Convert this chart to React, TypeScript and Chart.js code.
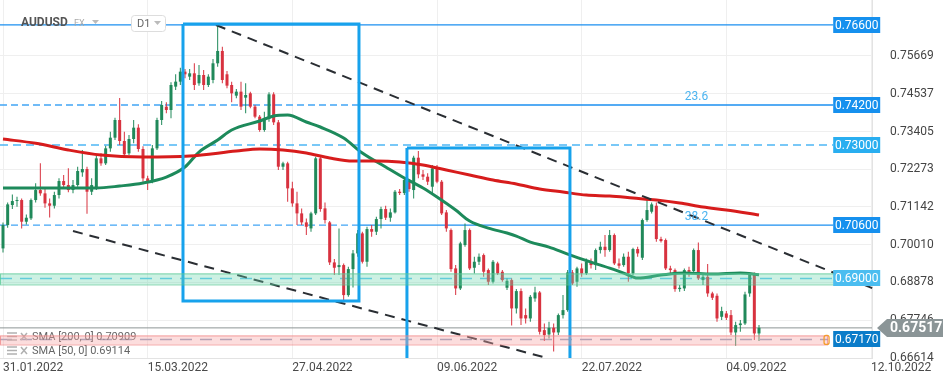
import React, { useEffect, useRef } from "react";
import { Chart, registerables } from "chart.js";
Chart.register(...registerables);

// ---------- DATA ----------
const candleOpen = [0.6990,0.7060,0.7120,0.7132,0.7135,0.7070,0.7080,0.7135,0.7165,0.7155,
 0.7125,0.7118,0.7150,0.7192,0.7180,0.7165,0.7180,0.7218,0.7228,0.7160,
 0.7172,0.7260,0.7245,0.7290,0.7322,0.7375,0.7312,0.7275,0.7318,0.7352,
 0.7288,0.7200,0.7192,0.7290,0.7375,0.7415,0.7405,0.7475,0.7490,0.7520,
 0.7505,0.7515,0.7485,0.7510,0.7480,0.7495,0.7545,0.7582,0.7512,0.7480,
 0.7448,0.7460,0.7442,0.7455,0.7415,0.7385,0.7345,0.7378,0.7452,0.7368,
 0.7235,0.7245,0.7170,0.7125,0.7095,0.7068,0.7050,0.7095,0.7260,0.7110,
 0.7068,0.6948,0.6934,0.6940,0.6850,0.6928,0.6975,0.7035,0.6950,0.7048,
 0.7040,0.7078,0.7108,0.7082,0.7098,0.7160,0.7156,0.7195,0.7165,0.7262,
 0.7212,0.7205,0.7175,0.7230,0.7190,0.7098,0.7045,0.6930,0.6870,0.7000,
 0.7045,0.6932,0.6950,0.6970,0.6925,0.6890,0.6945,0.6920,0.6872,0.6895,
 0.6810,0.6862,0.6790,0.6780,0.6840,0.6858,0.6745,0.6732,0.6752,0.6738,
 0.6790,0.6805,0.6918,0.6890,0.6930,0.6915,0.6950,0.6940,0.6985,0.6995,
 0.6985,0.7030,0.6945,0.6940,0.6965,0.6915,0.6988,0.6962,0.7075,0.7100,
 0.7118,0.7018,0.7015,0.6930,0.6925,0.6868,0.6870,0.6925,0.6922,0.6985,
 0.6895,0.6905,0.6855,0.6848,0.6785,0.6795,0.6790,0.6738,0.6760,0.6765,
 0.6855,0.6912,0.6735];
const candleHigh = [0.7068,0.7128,0.7152,0.7145,0.7140,0.7092,0.7140,0.7185,0.7245,0.7170,
 0.7140,0.7160,0.7200,0.7210,0.7230,0.7195,0.7235,0.7285,0.7235,0.7200,
 0.7268,0.7275,0.7298,0.7340,0.7382,0.7441,0.7340,0.7330,0.7375,0.7362,
 0.7296,0.7208,0.7300,0.7382,0.7432,0.7428,0.7488,0.7512,0.7532,0.7528,
 0.7528,0.7545,0.7540,0.7525,0.7512,0.7558,0.7661,0.7595,0.7522,0.7490,
 0.7468,0.7490,0.7485,0.7460,0.7420,0.7390,0.7400,0.7458,0.7458,0.7375,
 0.7250,0.7250,0.7190,0.7160,0.7110,0.7080,0.7100,0.7265,0.7265,0.7128,
 0.7072,0.6958,0.7050,0.6945,0.6935,0.6985,0.7045,0.7040,0.7055,0.7060,
 0.7085,0.7115,0.7118,0.7110,0.7165,0.7168,0.7200,0.7198,0.7268,0.7282,
 0.7225,0.7215,0.7240,0.7240,0.7195,0.7105,0.7050,0.6940,0.7010,0.7065,
 0.7050,0.6965,0.6975,0.6975,0.6930,0.6955,0.6950,0.6925,0.6900,0.6900,
 0.6868,0.6870,0.6810,0.6850,0.6875,0.6862,0.6765,0.6770,0.6765,0.6795,
 0.6850,0.6925,0.6925,0.6935,0.6945,0.6960,0.6960,0.6990,0.7010,0.7030,
 0.7045,0.7035,0.6960,0.6975,0.6980,0.6992,0.6995,0.7080,0.7137,0.7128,
 0.7128,0.7025,0.7020,0.6938,0.6930,0.6880,0.6930,0.6935,0.6990,0.7008,
 0.6915,0.6943,0.6860,0.6855,0.6815,0.6802,0.6805,0.6770,0.6775,0.6860,
 0.6918,0.6918,0.6760];
const candleLow = [0.6978,0.7052,0.7108,0.7115,0.7050,0.7062,0.7075,0.7128,0.7148,0.7112,
 0.7083,0.7110,0.7140,0.7170,0.7158,0.7155,0.7175,0.7205,0.7094,0.7150,
 0.7165,0.7238,0.7240,0.7280,0.7315,0.7300,0.7262,0.7270,0.7305,0.7280,
 0.7190,0.7165,0.7185,0.7285,0.7360,0.7395,0.7380,0.7465,0.7480,0.7500,
 0.7495,0.7465,0.7478,0.7465,0.7474,0.7485,0.7535,0.7485,0.7470,0.7428,
 0.7440,0.7405,0.7395,0.7410,0.7380,0.7340,0.7340,0.7370,0.7360,0.7225,
 0.7225,0.7130,0.7115,0.7060,0.7060,0.7030,0.7040,0.7090,0.7100,0.7065,
 0.6940,0.6910,0.6910,0.6829,0.6845,0.6873,0.6965,0.6945,0.6935,0.7025,
 0.7030,0.7050,0.7075,0.7070,0.7095,0.7150,0.7150,0.7160,0.7140,0.7200,
 0.7195,0.7180,0.7150,0.7185,0.7090,0.7040,0.6920,0.6850,0.6865,0.6995,
 0.6925,0.6915,0.6940,0.6905,0.6880,0.6885,0.6910,0.6890,0.6865,0.6759,
 0.6795,0.6760,0.6765,0.6770,0.6830,0.6732,0.6712,0.6720,0.6681,0.6730,
 0.6780,0.6800,0.6880,0.6875,0.6905,0.6910,0.6930,0.6925,0.6975,0.6965,
 0.6980,0.6940,0.6930,0.6935,0.6890,0.6910,0.6965,0.6955,0.7070,0.7095,
 0.7010,0.7008,0.6925,0.6915,0.6860,0.6860,0.6862,0.6905,0.6915,0.6895,
 0.6880,0.6845,0.6835,0.6770,0.6775,0.6775,0.6730,0.6698,0.6740,0.6760,
 0.6845,0.6715,0.6712];
const candleClose = [0.7060,0.7122,0.7132,0.7135,0.7070,0.7082,0.7135,0.7165,0.7155,0.7125,
 0.7118,0.7150,0.7192,0.7180,0.7165,0.7180,0.7222,0.7228,0.7160,0.7180,
 0.7260,0.7245,0.7290,0.7322,0.7375,0.7312,0.7272,0.7318,0.7352,0.7288,
 0.7200,0.7192,0.7290,0.7375,0.7420,0.7405,0.7480,0.7490,0.7520,0.7512,
 0.7515,0.7480,0.7510,0.7480,0.7505,0.7545,0.7582,0.7495,0.7478,0.7455,
 0.7460,0.7415,0.7450,0.7415,0.7385,0.7345,0.7378,0.7452,0.7368,0.7235,
 0.7245,0.7170,0.7125,0.7095,0.7068,0.7055,0.7095,0.7260,0.7108,0.7075,
 0.6948,0.6932,0.6940,0.6850,0.6928,0.6975,0.7035,0.6950,0.7048,0.7040,
 0.7078,0.7108,0.7082,0.7098,0.7160,0.7156,0.7195,0.7168,0.7262,0.7212,
 0.7205,0.7190,0.7230,0.7190,0.7095,0.7050,0.6928,0.6870,0.7005,0.7045,
 0.6930,0.6950,0.6965,0.6920,0.6890,0.6950,0.6915,0.6895,0.6893,0.6810,
 0.6862,0.6780,0.6780,0.6845,0.6858,0.6740,0.6730,0.6752,0.6738,0.6790,
 0.6805,0.6918,0.6885,0.6930,0.6915,0.6950,0.6940,0.6985,0.6995,0.6985,
 0.7030,0.6945,0.6938,0.6965,0.6915,0.6988,0.6975,0.7075,0.7105,0.7122,
 0.7018,0.7012,0.6930,0.6925,0.6868,0.6872,0.6925,0.6920,0.6985,0.6900,
 0.6905,0.6855,0.6842,0.6780,0.6802,0.6782,0.6738,0.6760,0.6765,0.6852,
 0.6912,0.6735,0.6752];

const xTickIdx = [0, 31, 62, 93, 124, 155, 186];
const xTickLabels = ["31.01.2022", "15.03.2022", "27.04.2022", "09.06.2022", "22.07.2022", "04.09.2022", "12.10.2022"];
const yTicks = [0.66614, 0.67746, 0.68878, 0.70010, 0.71142, 0.72273, 0.73405, 0.74537, 0.75669];

const sma200Idx = [0, 7, 14, 21, 30, 40, 50, 55, 60, 65, 70, 75, 80, 85, 90, 95, 100, 105, 110, 115, 120, 125, 130, 135, 140, 145, 150, 155, 162];
const sma200Val = [0.7318, 0.7305, 0.7285, 0.7270, 0.7264, 0.7267, 0.7282, 0.7288, 0.7285, 0.7276, 0.7261, 0.7252, 0.7252, 0.7249, 0.7240, 0.7225, 0.7210, 0.7195, 0.7183, 0.7168, 0.7159, 0.7150, 0.7147, 0.7141, 0.7135, 0.7126, 0.7114, 0.7105, 0.7090];
const sma50Idx = [0, 10, 20, 25, 30, 35, 39, 42, 46, 49, 55, 58, 61, 65, 68, 73, 77, 82, 86, 90, 93, 97, 100, 104, 108, 110, 113, 117, 121, 126, 130, 133, 136, 141, 146, 152, 158, 162];
const sma50Val = [0.7171, 0.7171, 0.7171, 0.7177, 0.7186, 0.7204, 0.7234, 0.7279, 0.7315, 0.7345, 0.7372, 0.7387, 0.7390, 0.7369, 0.7354, 0.7321, 0.7276, 0.7234, 0.7201, 0.7171, 0.7144, 0.7105, 0.7072, 0.7051, 0.7036, 0.7027, 0.7009, 0.6994, 0.6973, 0.6949, 0.6931, 0.6916, 0.6901, 0.6910, 0.6916, 0.6913, 0.6916, 0.6911];
const sma200Last = 0.70909;
const sma50Last = 0.69114;

const levelPrices = [0.766, 0.742, 0.73, 0.706, 0.69, 0.6717];
const currentPrice = 0.67517;
const fibNames = ["23.6", "38.2"];
const fibPrices = [0.742, 0.706];

const zoneTop = [0.6915, 0.6729];
const zoneBottom = [0.6882, 0.6702];

const trendUpperIdx = [45.64, 187.27];
const trendUpperPrice = [0.76599, 0.68652];
const trendLowerIdx = [15.0, 116.56];
const trendLowerPrice = [0.70421, 0.66613];

const boxIdx = [[38.57, 76.28], [86.56, 121.49]];
const boxPrice = [[0.76629, 0.68322], [0.7291, 0.66]];

// ---------- LAYOUT / STYLE ----------
const X_MIN = -0.643;
const X_MAX = 186.214;
const LINE_END = 177.9;
const SOLID_START = 76.3;
const ZONE_END = [179.6, 176.8];
const FIB_LABEL_IDX = 146.1;
const GREEN = "#20895a";
const RED = "#d8323f";
const levelBoxColors = ["#1690ee", "#1690ee", "#29aef0", "#1690ee", "#4bbdf0", "#0b7cc9"];
const zoneFill = ["rgba(110, 215, 175, 0.35)", "rgba(248, 165, 165, 0.38)"];
const zoneStroke = ["rgba(90, 200, 150, 0.75)", "rgba(240, 130, 130, 0.7)"];
const FONT = "Roboto, 'Noto Sans', sans-serif";

function hline(price: number, from: number, to: number, color: string, dash: number[], width: number, order: number) {
  return {
    type: "line",
    data: [{ x: from, y: price }, { x: to, y: price }],
    borderColor: color,
    borderDash: dash,
    borderWidth: width,
    pointRadius: 0,
    fill: false,
    order,
  };
}

const overlayPlugin = {
  id: "overlay",
  afterDatasetsDraw(chart: any) {
    const { ctx, chartArea: a, scales } = chart;
    const xs = scales.x, ys = scales.y;
    ctx.save();
    // legend (drawn under the zones)
    const legend = [`SMA [200, 0] ${sma200Last.toFixed(5)}`, `SMA [50, 0] ${sma50Last.toFixed(5)}`];
    legend.forEach((t, k) => {
      const yy = 337 + k * 14;
      ctx.strokeStyle = "#b0b0b0";
      ctx.lineWidth = 1.5;
      for (let r = 0; r < 3; r++) {
        ctx.beginPath();
        ctx.moveTo(7, yy - 4 + r * 3.5);
        ctx.lineTo(17, yy - 4 + r * 3.5);
        ctx.stroke();
      }
      ctx.beginPath();
      ctx.moveTo(21, yy - 4); ctx.lineTo(27, yy + 3);
      ctx.moveTo(27, yy - 4); ctx.lineTo(21, yy + 3);
      ctx.stroke();
      ctx.fillStyle = "#666";
      ctx.font = `11px ${FONT}`;
      ctx.textBaseline = "middle";
      ctx.textAlign = "left";
      ctx.fillText(t, 32, yy);
    });
    // zones
    zoneTop.forEach((top, k) => {
      const x0 = a.left;
      const x1 = xs.getPixelForValue(ZONE_END[k]);
      const y0 = ys.getPixelForValue(top);
      const y1 = ys.getPixelForValue(zoneBottom[k]);
      ctx.fillStyle = zoneFill[k];
      ctx.fillRect(x0, y0, x1 - x0, y1 - y0);
      ctx.strokeStyle = zoneStroke[k];
      ctx.lineWidth = 1;
      ctx.strokeRect(x0 + 0.5, y0 + 0.5, x1 - x0 - 1, y1 - y0);
    });
    ctx.restore();
  },
  afterDraw(chart: any) {
    const { ctx, chartArea: a, scales } = chart;
    const xs = scales.x, ys = scales.y;
    ctx.save();
    // level label boxes
    const bx = xs.getPixelForValue(LINE_END);
    levelPrices.forEach((p, k) => {
      const yy = Math.round(ys.getPixelForValue(p));
      ctx.fillStyle = levelBoxColors[k];
      ctx.fillRect(bx, yy - 8, 47, 16);
      ctx.fillStyle = "#ffffff";
      ctx.font = `12px ${FONT}`;
      ctx.textAlign = "center";
      ctx.textBaseline = "middle";
      ctx.fillText(p.toFixed(5), bx + 23.5, yy + 0.5);
    });
    // fib labels
    fibNames.forEach((n, k) => {
      const yy = ys.getPixelForValue(fibPrices[k]) - 8;
      ctx.fillStyle = "#4bb4f0";
      ctx.font = `12px ${FONT}`;
      ctx.textAlign = "left";
      ctx.textBaseline = "middle";
      ctx.fillText(n, xs.getPixelForValue(FIB_LABEL_IDX), yy);
    });
    // orange marker at pink zone end
    const ox = xs.getPixelForValue(ZONE_END[1]) - 4;
    const oy = ys.getPixelForValue(zoneTop[1]);
    ctx.strokeStyle = "#f39c2c";
    ctx.lineWidth = 1.3;
    ctx.beginPath();
    ctx.roundRect(ox, oy, 5, 9, 2);
    ctx.stroke();
    // current price tag
    const py = ys.getPixelForValue(currentPrice);
    ctx.fillStyle = "#8b9597";
    ctx.beginPath();
    ctx.moveTo(a.right + 5, py);
    ctx.lineTo(a.right + 15, py - 9);
    ctx.lineTo(943, py - 9);
    ctx.lineTo(943, py + 9);
    ctx.lineTo(a.right + 15, py + 9);
    ctx.closePath();
    ctx.fill();
    ctx.fillStyle = "#ffffff";
    ctx.font = `bold 14px ${FONT}`;
    ctx.textAlign = "left";
    ctx.textBaseline = "middle";
    ctx.fillText(currentPrice.toFixed(5), a.right + 18, py + 1);
    // header
    ctx.fillStyle = "#555";
    ctx.font = `bold 12px ${FONT}`;
    ctx.textAlign = "left";
    ctx.fillText("AUDUSD", 21, 23);
    ctx.fillStyle = "#aaa";
    ctx.font = `9px ${FONT}`;
    ctx.fillText("FX", 74, 24);
    ctx.fillStyle = "#bbb";
    ctx.beginPath();
    ctx.moveTo(92, 20); ctx.lineTo(99, 20); ctx.lineTo(95.5, 24); ctx.closePath(); ctx.fill();
    ctx.fillStyle = "#fff";
    ctx.strokeStyle = "#dddddd";
    ctx.lineWidth = 1;
    ctx.beginPath();
    ctx.roundRect(131.5, 15.5, 34, 16, 3);
    ctx.fill();
    ctx.stroke();
    ctx.fillStyle = "#666";
    ctx.font = `11px ${FONT}`;
    ctx.fillText("D1", 137, 24);
    ctx.fillStyle = "#bbb";
    ctx.beginPath();
    ctx.moveTo(154, 21); ctx.lineTo(161, 21); ctx.lineTo(157.5, 25); ctx.closePath(); ctx.fill();
    ctx.restore();
  },
};

export default function App() {
  const ref = useRef<HTMLCanvasElement>(null);
  useEffect(() => {
    const canvas = ref.current;
    if (!canvas) return;
    const idx = candleOpen.map((_, i) => i);
    const colorFn = (c: any) => (candleClose[c.dataIndex] >= candleOpen[c.dataIndex] ? GREEN : RED);
    const rectData = (k: number) => [
      { x: boxIdx[k][0], y: boxPrice[k][0] },
      { x: boxIdx[k][1], y: boxPrice[k][0] },
      { x: boxIdx[k][1], y: boxPrice[k][1] },
      { x: boxIdx[k][0], y: boxPrice[k][1] },
      { x: boxIdx[k][0], y: boxPrice[k][0] },
    ];
    const datasets: any[] = [
      hline(levelPrices[0], X_MIN, LINE_END, "#1b8ff0", [], 1.3, 20),
      hline(levelPrices[1], X_MIN, SOLID_START, "#42a5f5", [7, 4], 1.3, 20),
      hline(levelPrices[1], SOLID_START, LINE_END, "#1b8ff0", [], 1.3, 20),
      hline(levelPrices[2], X_MIN, LINE_END, "#4db6f5", [8, 5], 1.5, 20),
      hline(levelPrices[3], X_MIN, SOLID_START, "#42a5f5", [7, 4], 1.3, 20),
      hline(levelPrices[3], SOLID_START, LINE_END, "#1b8ff0", [], 1.3, 20),
      hline(levelPrices[4], X_MIN, ZONE_END[0], "#5cc6f2", [12, 8], 1.5, 20),
      hline(levelPrices[5], X_MIN, ZONE_END[1], "#8ea0bd", [12, 8], 1.5, 20),
      hline(currentPrice, X_MIN, X_MAX, "#8d9696", [], 1, 19),
      {
        type: "bar",
        data: idx.map((i) => ({ x: i, y: [candleLow[i], candleHigh[i]] })),
        backgroundColor: colorFn,
        borderWidth: 0,
        maxBarThickness: 1,
        grouped: false,
        order: 6,
      },
      {
        type: "bar",
        data: idx.map((i) => ({ x: i, y: [candleOpen[i], candleClose[i]] })),
        backgroundColor: colorFn,
        borderWidth: 0,
        maxBarThickness: 3,
        minBarLength: 1,
        grouped: false,
        order: 5,
      },
      {
        type: "line",
        data: sma200Idx.map((v, k) => ({ x: v, y: sma200Val[k] })),
        borderColor: "#d71c1c",
        borderWidth: 3,
        pointRadius: 0,
        cubicInterpolationMode: "monotone",
        order: 3,
      },
      {
        type: "line",
        data: sma50Idx.map((v, k) => ({ x: v, y: sma50Val[k] })),
        borderColor: "#1d8a5b",
        borderWidth: 3,
        pointRadius: 0,
        cubicInterpolationMode: "monotone",
        order: 3,
      },
      {
        type: "line",
        data: trendUpperIdx.map((v, k) => ({ x: v, y: trendUpperPrice[k] })),
        borderColor: "#2a2e33",
        borderWidth: 2,
        borderDash: [10, 7],
        pointRadius: 0,
        clip: { left: 0, top: 0, right: 8, bottom: 0 },
        order: 2,
      },
      {
        type: "line",
        data: trendLowerIdx.map((v, k) => ({ x: v, y: trendLowerPrice[k] })),
        borderColor: "#2a2e33",
        borderWidth: 2,
        borderDash: [10, 7],
        pointRadius: 0,
        order: 2,
      },
      {
        type: "line",
        data: rectData(0),
        borderColor: "#17a2ec",
        borderWidth: 3,
        borderJoinStyle: "miter",
        pointRadius: 0,
        order: 1,
      },
      {
        type: "line",
        data: rectData(1),
        borderColor: "#17a2ec",
        borderWidth: 3,
        borderJoinStyle: "miter",
        pointRadius: 0,
        order: 1,
      },
    ];

    const chart = new Chart(canvas, {
      type: "bar",
      data: { datasets },
      options: {
        responsive: false,
        maintainAspectRatio: false,
        animation: false,
        events: [],
        layout: { padding: 0 },
        plugins: { legend: { display: false }, tooltip: { enabled: false } },
        scales: {
          x: {
            type: "linear",
            min: X_MIN,
            max: X_MAX,
            offset: false,
            afterBuildTicks: (s: any) => {
              s.ticks = xTickIdx.map((v) => ({ value: v }));
            },
            afterFit: (s: any) => {
              s.height = 26;
              s.paddingLeft = 0;
              s.paddingRight = 0;
            },
            ticks: {
              align: "start",
              autoSkip: false,
              maxRotation: 0,
              padding: 3,
              color: "#4a4a4a",
              font: { size: 12, family: FONT },
              callback: (_v: any, i: number) => xTickLabels[i],
            },
            grid: { color: "#efefef", drawTicks: false, offset: false },
            border: { display: true, color: "#e3e3e3" },
          },
          y: {
            type: "linear",
            position: "right",
            min: 0.66614,
            max: 0.77348,
            afterBuildTicks: (s: any) => {
              s.ticks = yTicks.map((v) => ({ value: v }));
            },
            afterFit: (s: any) => {
              s.width = 77;
              s.paddingTop = 0;
              s.paddingBottom = 0;
            },
            ticks: {
              padding: 18,
              color: "#444",
              font: { size: 12, family: FONT },
              callback: (v: any) => Number(v).toFixed(5),
            },
            grid: { color: "#efefef", drawTicks: false },
            border: { display: true, color: "#e3e3e3" },
          },
        },
      },
      plugins: [overlayPlugin],
    } as any);
    return () => chart.destroy();
  }, []);

  return (
    <div style={{ position: "absolute", left: 0, top: 0, width: 949, height: 384, background: "#fff" }}>
      <canvas ref={ref} width={949} height={384} style={{ display: "block" }} />
    </div>
  );
}
